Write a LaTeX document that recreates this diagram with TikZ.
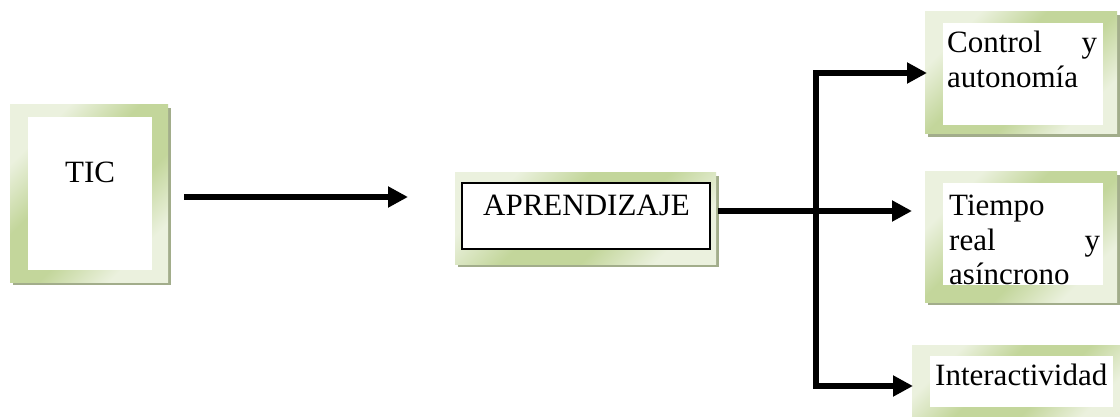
\documentclass[tikz,border=0pt]{standalone}
\usepackage{fontspec}
\setmainfont{Liberation Serif}
\usetikzlibrary{arrows.meta,shadows}

\definecolor{framegreen}{HTML}{C3D69B}
\definecolor{framelight}{HTML}{EBF1DE}
\definecolor{frameshadow}{HTML}{A2AD8B}

% diagonal fade of the frames: light corners, green band through the middle
\pgfdeclareverticalshading{framefade}{100bp}{%
  color(0bp)=(framelight); color(27bp)=(framelight);
  color(42bp)=(framegreen); color(58bp)=(framegreen);
  color(73bp)=(framelight); color(100bp)=(framelight)}

\newcommand{\spreadline}[3]{\leavevmode\hbox to #1{#2\hfill #3}}

\tikzset{
  frame/.style={draw=none, inner sep=0pt,
    drop shadow={shadow xshift=3pt, shadow yshift=-3pt, fill=frameshadow, opacity=1},
    shading=framefade, shading angle=45},
  pane/.style={fill=white, draw=none},
  label/.style={inner sep=0pt, anchor=base west, font=\fontsize{31}{35}\selectfont},
  conn/.style={line width=6.5pt, line join=miter, -{Triangle[length=20pt,width=20pt]}},
}

\begin{document}
\begin{tikzpicture}[x=1pt,y=-1pt]
\useasboundingbox[fill=white] (0,0) rectangle (1120,417);

% framed boxes
\node[frame, minimum width=158pt, minimum height=177pt] (tic) at (89,193.5) {};
\fill[pane] (28,117) rectangle (152,270);
\node[label] (tic-text) at (65,183) {TIC};

\node[frame, minimum width=261pt, minimum height=91pt] (apr) at (585.5,218.5) {};
\draw[fill=white, line width=1.6pt] (462,183) rectangle (710,249);
\node[label] (apr-text) at (483,215) {APRENDIZAJE};

\node[frame, minimum width=192pt, minimum height=122pt] (control) at (1021,73) {};
\fill[pane] (943,23) rectangle (1103,125);
\node[label, align=left, text width=150pt] (control-text) at (947,53)
  {\spreadline{150pt}{Control}{y}\\autonomía};

\node[frame, minimum width=192pt, minimum height=130pt] (tiempo) at (1021,237) {};
\fill[pane] (943,183) rectangle (1103,285);
\node[label, align=left, text width=151pt] (tiempo-text) at (949,215)
  {Tiempo\\\spreadline{151pt}{real}{y}\\asíncrono};

\node[frame, minimum width=213pt, minimum height=80pt] (inter) at (1018.5,385) {};
\fill[pane] (930,356) rectangle (1113,407);
\node[label] (inter-text) at (935,385) {Interactividad};

% connector end points
\coordinate (tic-out) at (184,197);
\coordinate (apr-in) at (408,197);
\coordinate (apr-out) at (718,211);
\coordinate (bend-top) at (816,73);
\coordinate (bend-bot) at (816,386);
\coordinate (control-in) at (927,73);
\coordinate (tiempo-in) at (912,211);
\coordinate (inter-in) at (913,386);

% connectors
\draw[conn] (tic-out) -- (apr-in);
\draw[conn] (apr-out) -- (tiempo-in);
\draw[conn] (bend-bot) -- (bend-top) -- (control-in);
\draw[conn] (bend-top) -- (bend-bot) -- (inter-in);
\end{tikzpicture}
\end{document}
